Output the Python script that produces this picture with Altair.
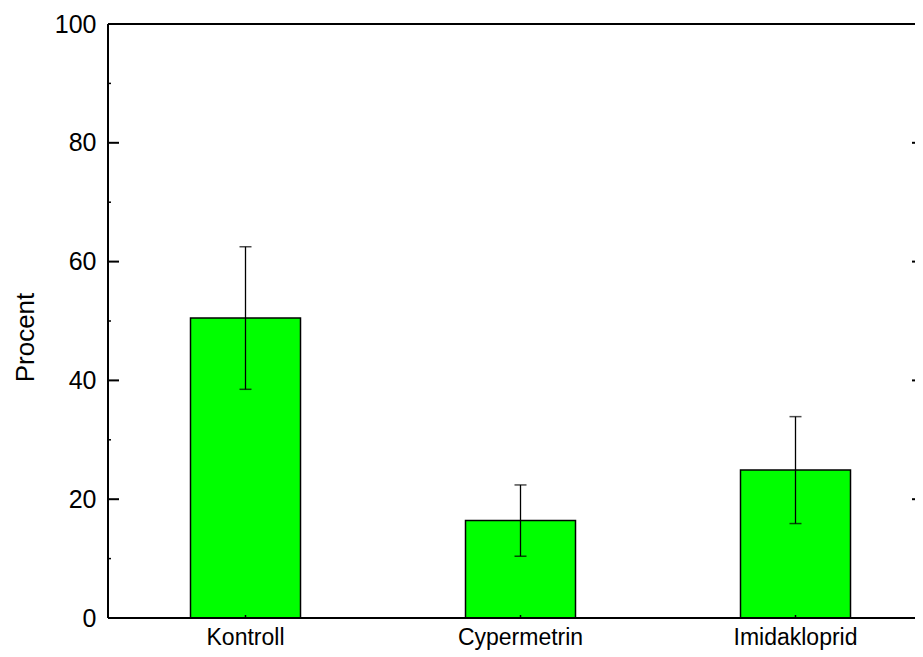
import altair as alt
import pandas as pd

categories = ["Kontroll", "Cypermetrin", "Imidakloprid"]
means = [50.5, 16.4, 24.9]
errors = [12.0, 6.0, 9.0]
major_ticks = [0, 20, 40, 60, 80, 100]
minor_ticks = [10, 30, 50, 70, 90]

W, H = 807, 594
FULL = 825  # full band-scale extent (right part lies beyond the page)
FONT = "Liberation Sans"

df = pd.DataFrame({
    "cat": categories,
    "mean": means,
    "lo": [m - e for m, e in zip(means, errors)],
    "hi": [m + e for m, e in zip(means, errors)],
})
ticks_df = pd.DataFrame({"v": major_ticks})
minor_df = pd.DataFrame({"v": minor_ticks})

xscale = alt.Scale(paddingInner=0.6, paddingOuter=0.3, range=[0, FULL])
x = alt.X("cat:N", sort=categories, scale=xscale,
          axis=alt.Axis(title=None, labelAngle=0, labelFont=FONT, labelFontSize=23,
                        labelColor="black", labelPadding=8, ticks=False, domain=False))
yscale = alt.Scale(domain=[0, 100], nice=False)
y = alt.Y("mean:Q", scale=yscale,
          axis=alt.Axis(title="Procent", values=major_ticks, labelFont=FONT, labelFontSize=25,
                        labelColor="black", labelPadding=12, ticks=False, domain=False, grid=False,
                        titleFont=FONT, titleFontSize=26, titleFontWeight="normal",
                        titleColor="black", titleX=-83, titleY=313, titleAngle=270,
                        titleAlign="center", titleBaseline="middle"))

xc = alt.X("cat:N", sort=categories, scale=xscale)

bars = alt.Chart(df).mark_bar(color="#00ff00", stroke="black", strokeWidth=1.5).encode(x=x, y=y)
stems = alt.Chart(df).mark_rule(color="black", strokeWidth=1.3).encode(
    x=xc, y=alt.Y("lo:Q", scale=yscale), y2="hi:Q")
caps_hi = alt.Chart(df).mark_tick(color="black", size=12, thickness=1.5).encode(
    x=xc, y=alt.Y("hi:Q", scale=yscale))
caps_lo = alt.Chart(df).mark_tick(color="black", size=12, thickness=1.5).encode(
    x=xc, y=alt.Y("lo:Q", scale=yscale))

frame_top = alt.Chart(df).mark_rule(color="black", strokeWidth=2).encode(
    x=alt.value(0), x2=alt.value(W), y=alt.value(0))
frame_bottom = alt.Chart(df).mark_rule(color="black", strokeWidth=2).encode(
    x=alt.value(0), x2=alt.value(W), y=alt.value(H))
frame_left = alt.Chart(df).mark_rule(color="black", strokeWidth=2).encode(
    x=alt.value(0), y=alt.value(0), y2=alt.value(H))

left_ticks = alt.Chart(ticks_df).mark_rule(color="black", strokeWidth=2).encode(
    x=alt.value(0), x2=alt.value(11), y=alt.Y("v:Q", scale=yscale))
right_ticks = alt.Chart(ticks_df).mark_rule(color="black", strokeWidth=2).encode(
    x=alt.value(W - 3), x2=alt.value(W), y=alt.Y("v:Q", scale=yscale))
left_minor = alt.Chart(minor_df).mark_rule(color="black", strokeWidth=1.5).encode(
    x=alt.value(0), x2=alt.value(3), y=alt.Y("v:Q", scale=yscale))
bottom_ticks = alt.Chart(df).mark_rule(color="black", strokeWidth=1.5).encode(
    x=xc, y=alt.value(H), y2=alt.value(H - 3))

chart = alt.layer(
    bars, stems, caps_hi, caps_lo, frame_top, frame_bottom, frame_left,
    left_ticks, right_ticks, left_minor, bottom_ticks
).properties(
    width=W, height=H,
    background="white",
    autosize=alt.AutoSizeParams(type="none"),
    padding={"left": 100, "top": 16, "right": 0, "bottom": 39},
).configure_view(
    strokeWidth=0
)

chart.save("out.html", embed_options={"renderer": "svg", "actions": False})
